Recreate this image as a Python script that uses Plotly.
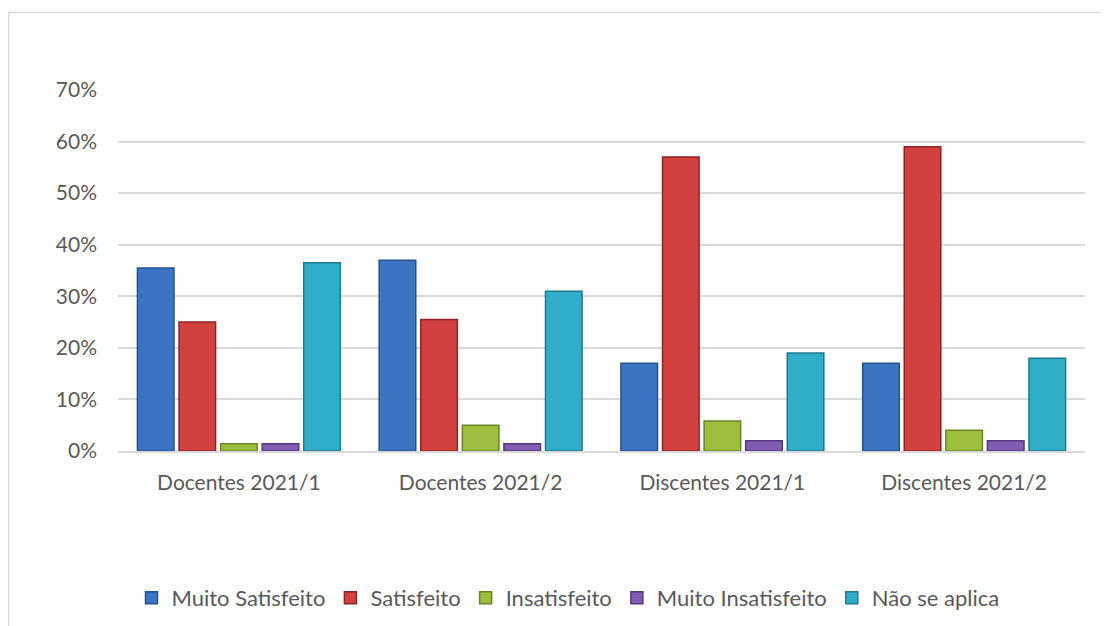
import plotly.graph_objects as go

categories = ["Docentes 2021/1", "Docentes 2021/2", "Discentes 2021/1", "Discentes 2021/2"]
series_names = ["Muito Satisfeito", "Satisfeito", "Insatisfeito", "Muito Insatisfeito", "Não se aplica"]
muito_satisfeito = [0.355, 0.37, 0.17, 0.17]
satisfeito = [0.25, 0.255, 0.57, 0.59]
insatisfeito = [0.014, 0.05, 0.058, 0.04]
muito_insatisfeito = [0.014, 0.014, 0.02, 0.02]
nao_se_aplica = [0.365, 0.31, 0.19, 0.18]
y_ticks = [0, 0.1, 0.2, 0.3, 0.4, 0.5, 0.6, 0.7]

series_values = [muito_satisfeito, satisfeito, insatisfeito, muito_insatisfeito, nao_se_aplica]
fills = ["#3C74C2", "#D2403F", "#9CBE3C", "#7F5DB2", "#30AEC9"]
edges = ["#24528F", "#8E2423", "#6A8526", "#54397E", "#1D7A8F"]

# page body has an 8px margin, so the figure is drawn 8px smaller and shifted
OFF = 8
W, H = 1108 - OFF, 626 - OFF
L, R, T, B = 118 - OFF, 23, 90 - OFF, 175
pw, ph = W - L - R, H - T - B

fig = go.Figure()
for name, vals, fc, ec in zip(series_names, series_values, fills, edges):
    fig.add_trace(go.Bar(x=categories, y=vals, name=name,
                         marker=dict(color=fc, line=dict(color=ec, width=1.5))))

def px_x(p):
    return (p - OFF - L) / pw

def px_y(p):
    return (H + OFF - B - p) / ph

fig.add_shape(type="rect", xref="paper", yref="paper",
              x0=px_x(8.5), x1=px_x(1120), y0=px_y(640), y1=px_y(12.5),
              line=dict(color="#D9D9D9", width=1.5), fillcolor="rgba(0,0,0,0)", layer="below")

fig.update_layout(
    width=W, height=H,
    margin=dict(l=L, r=R, t=T, b=B, autoexpand=False),
    paper_bgcolor="white", plot_bgcolor="white",
    font=dict(family="Lato, Open Sans, sans-serif", size=21, color="#595959"),
    barmode="group", bargap=0.14, bargroupgap=0.12,
    showlegend=True,
    legend=dict(orientation="h", x=px_x(568), xanchor="center", y=px_y(598), yanchor="middle",
                font=dict(size=22, color="#595959"), itemwidth=30, traceorder="normal"),
    xaxis=dict(showgrid=False, showline=True, linecolor="#D9D9D9", linewidth=1.5, automargin=False,
               ticks="", ticklabelstandoff=12, tickfont=dict(size=21, color="#595959")),
    yaxis=dict(range=[0, 0.7], tickvals=y_ticks, tickformat=".0%", showgrid=True, automargin=False,
               gridcolor="#D9D9D9", gridwidth=1.5, zeroline=False, showline=False,
               ticks="", ticklabelstandoff=20, tickfont=dict(size=21, color="#595959")),
)

fig.write_html("out.html")
